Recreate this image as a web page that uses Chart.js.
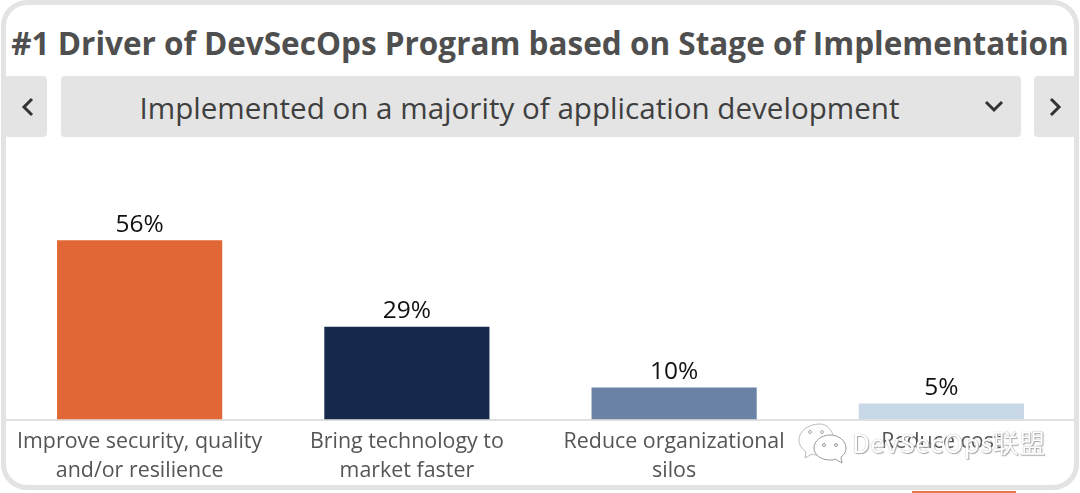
<!DOCTYPE html>
<html>
<head>
<meta charset="utf-8">
<script src="https://cdn.jsdelivr.net/npm/chart.js@4"></script>
<style>
  html, body { margin: 0; padding: 0; background: #fff; overflow: hidden; }
  body { width: 1080px; height: 493px; position: relative; font-family: "Open Sans", sans-serif; }
  .card { position: absolute; left: 1px; top: 0; width: 1078px; height: 490px; box-sizing: border-box;
          border: 5px solid #e3e3e3; border-radius: 26px; }
  .title { position: absolute; left: 0; top: 21px; width: 1080px; text-align: center; white-space: nowrap;
           font-size: 31.5px; font-weight: 700; color: #4f4f4f; line-height: 44px; }
  .btn { position: absolute; top: 76px; height: 61px; background: #e4e4e4; border-radius: 4px; }
  .btn svg { position: absolute; }
  .select-text { position: absolute; left: 0; right: 0; top: 0; text-align: center; padding-right: 43px;
                 font-size: 29.6px; line-height: 63px; color: #3f3f3f; white-space: nowrap; }
  #chart-wrap { position: absolute; left: 6px; top: 140px; width: 1069px; height: 345px; }
  .stub { position: absolute; left: 912px; top: 491px; width: 104px; height: 2px; background: #e8764a; }
  .wm { position: absolute; left: 852px; top: 425px; font-family: "Noto Sans CJK SC", "Noto Sans", sans-serif;
        font-size: 26px; line-height: 34px; letter-spacing: 0.45px; color: #fff; white-space: nowrap;
        text-shadow: 0 0 1px #999, 1px 1px 1px #aaa; }
  .wm-icon { position: absolute; left: 796px; top: 421px; }
</style>
</head>
<body>
<div class="card"></div>
<div class="title">#1 Driver of DevSecOps Program based on Stage of Implementation</div>

<div class="btn" style="left:5px;width:42px">
  <svg width="42" height="61"><path d="M27 23 L19 31 L27 39" fill="none" stroke="#333" stroke-width="3"/></svg>
</div>
<div class="btn" style="left:61px;width:960px">
  <div class="select-text">Implemented on a majority of application development</div>
  <svg width="960" height="61"><path d="M925 26 L933 34 L941 26" fill="none" stroke="#333" stroke-width="3"/></svg>
</div>
<div class="btn" style="left:1034px;width:42px">
  <svg width="42" height="61"><path d="M17 23 L25 31 L17 39" fill="none" stroke="#333" stroke-width="3"/></svg>
</div>

<div id="chart-wrap"><canvas id="driverChart"></canvas></div>
<div class="stub"></div>

<svg class="wm-icon" width="54" height="44" viewBox="0 0 54 44">
  <path d="M24 3 C12 3 3 10 3 19 C3 24 6 28 10 31 L9 37 L16 33 C18 34 20 34 23 34 C34 34 38 26 38 17 C36 9 31 3 24 3 Z" fill="#fff" stroke="#bbb" stroke-width="1"/>
  <path d="M34 14 C25 14 18 20 18 27 C18 34 25 39 34 39 C36 39 38 39 39 38 L46 42 L45 36 C48 34 50 31 50 27 C50 20 43 14 34 14 Z" fill="#fff" stroke="#999" stroke-width="1"/>
  <circle cx="14" cy="11" r="1.5" fill="none" stroke="#aaa"/>
  <circle cx="26" cy="11" r="1.5" fill="none" stroke="#aaa"/>
  <circle cx="28" cy="24" r="1.5" fill="none" stroke="#999"/>
  <circle cx="40" cy="24" r="1.5" fill="none" stroke="#999"/>
</svg>
<div class="wm">DevSecOps联盟</div>

<script>
const categories = [
  ['Improve security, quality', 'and/or resilience'],
  ['Bring technology to', 'market faster'],
  ['Reduce organizational', 'silos'],
  ['Reduce cost']
];
const percentValues = [56, 29, 10, 5];
const barColors = ['#e26736', '#16294b', '#6a82a5', '#c9d8e6'];

// draws the NN% above each bar
const valueLabels = {
  id: 'valueLabels',
  afterDatasetsDraw(chart) {
    const c = chart.ctx;
    const bars = chart.getDatasetMeta(0).data;
    c.save();
    c.font = '24.5px "Open Sans"';
    c.fillStyle = '#111';
    c.textAlign = 'center';
    c.textBaseline = 'bottom';
    bars.forEach((bar, i) => {
      c.fillText(percentValues[i] + '%', bar.x, bar.y - 3);
    });
    c.restore();
  }
};

new Chart(document.getElementById('driverChart'), {
  type: 'bar',
  data: {
    labels: categories,
    datasets: [{
      data: percentValues,
      backgroundColor: barColors,
      categoryPercentage: 1,
      barPercentage: 0.618
    }]
  },
  options: {
    responsive: true,
    maintainAspectRatio: false,
    animation: false,
    layout: { padding: { top: 87.5 } },
    plugins: { legend: { display: false }, tooltip: { enabled: false } },
    scales: {
      y: { display: false, min: 0, max: 60 },
      x: {
        afterFit: (scale) => { scale.height = 65.5; },
        grid: { display: false },
        border: { color: '#e0e0e0', width: 2 },
        ticks: {
          color: '#555',
          font: { family: '"Open Sans"', size: 21.4, lineHeight: 1.36 },
          padding: 0,
          maxRotation: 0,
          autoSkip: false
        }
      }
    }
  },
  plugins: [valueLabels]
});
</script>
</body>
</html>
